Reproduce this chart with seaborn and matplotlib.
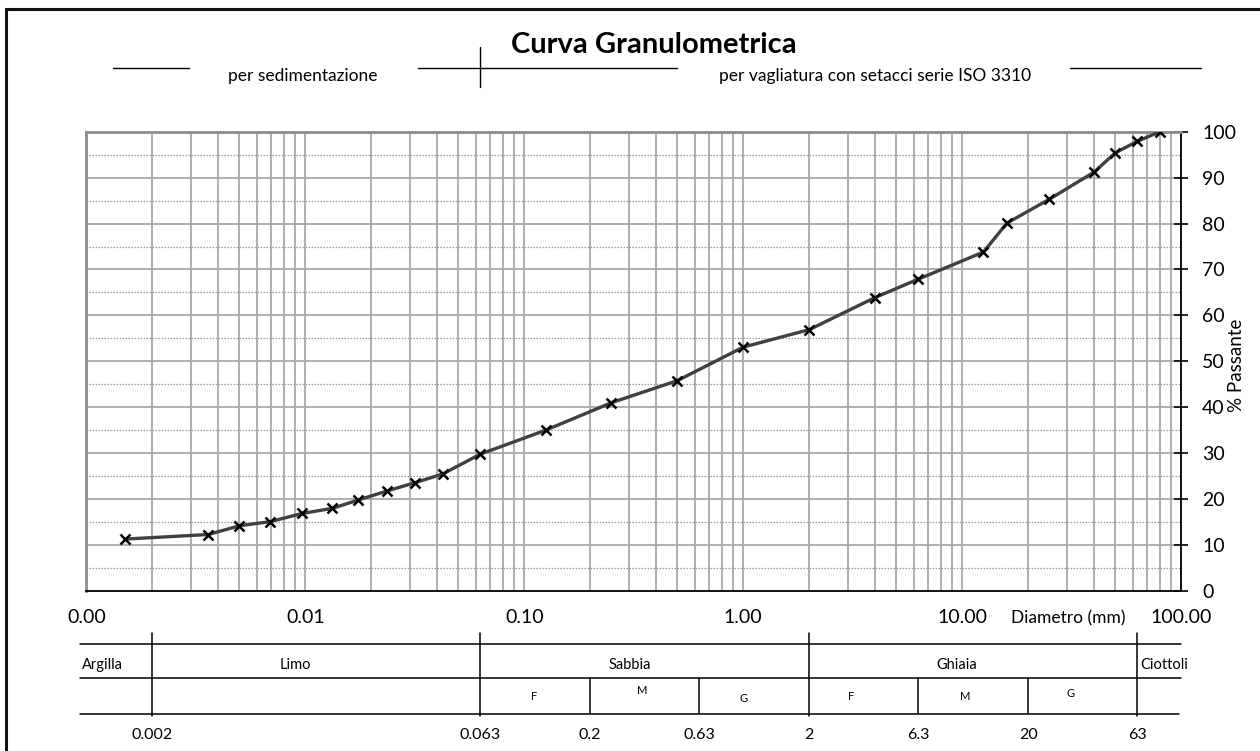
import numpy as np
import matplotlib
matplotlib.use("Agg")
import matplotlib.pyplot as plt
import matplotlib.transforms as mtransforms
from matplotlib.lines import Line2D
from matplotlib.ticker import (LogLocator, FixedLocator, FuncFormatter,
                               MultipleLocator, NullFormatter)
import seaborn as sns

# --- data -------------------------------------------------------------------
diametro_mm = [0.0015, 0.0036, 0.005, 0.0069, 0.0097, 0.0133, 0.0174, 0.0237,
               0.0318, 0.0425, 0.063, 0.125, 0.25, 0.5, 1.0, 2.0, 4.0, 6.3,
               12.5, 16.0, 25.0, 40.0, 50.0, 63.0, 80.0]
passante_pct = [11.3, 12.3, 14.2, 15.1, 16.9, 18.0, 19.8, 21.8, 23.6, 25.5,
                29.8, 35.0, 41.0, 45.8, 53.1, 56.9, 63.9, 67.9, 73.8, 80.1,
                85.3, 91.2, 95.4, 97.9, 100.0]

x_ticks = [0.001, 0.01, 0.1, 1, 10, 100]
y_ticks = list(range(0, 101, 10))

classi = ["Argilla", "Limo", "Sabbia", "Ghiaia", "Ciottoli"]
sottoclassi = ["F", "M", "G", "F", "M", "G"]
limiti_classi = [0.002, 0.063, 2, 63]
limiti_sottoclassi = [0.2, 0.63, 6.3, 20]
limite_sedimentazione = 0.063

# --- style ------------------------------------------------------------------
sns.set_theme(style="white")
plt.rcParams["font.family"] = ["Lato", "DejaVu Sans"]

W, H = 1260, 751
fig = plt.figure(figsize=(W / 100, H / 100), dpi=100)


def fx(px):
    return px / W


def fy(py):
    return 1 - py / H


ax_l, ax_r, ax_t, ax_b = 86.4, 1181.2, 131.7, 591.0
ax = fig.add_axes([fx(ax_l), fy(ax_b), fx(ax_r - ax_l), (ax_b - ax_t) / H])
ax.set_xscale("log")

sns.lineplot(x=diametro_mm, y=passante_pct, ax=ax, estimator=None, sort=False,
             color="#404040", linewidth=2.4, marker="x", markersize=7,
             markeredgewidth=1.8, markeredgecolor="black", zorder=5)

ax.set_xlim(x_ticks[0], x_ticks[-1])
ax.set_ylim(0, 100)

# ticks
ax.xaxis.set_major_locator(FixedLocator(x_ticks))
ax.xaxis.set_minor_locator(LogLocator(base=10, subs=np.arange(2, 10), numticks=60))
ax.xaxis.set_major_formatter(FuncFormatter(lambda v, p: f"{v:.2f}"))
ax.xaxis.set_minor_formatter(NullFormatter())
ax.yaxis.set_major_locator(FixedLocator(y_ticks))
ax.yaxis.set_minor_locator(MultipleLocator(5))
ax.yaxis.tick_right()
ax.tick_params(axis="x", which="major", direction="inout", length=10, width=1.2,
               color="black", pad=8, labelsize=14, labelcolor="black")
ax.tick_params(axis="y", which="major", direction="inout", length=10, width=1.2,
               color="black", pad=10, labelsize=14, labelcolor="black",
               right=True, left=False)
ax.tick_params(which="minor", length=0)

# grid
ax.grid(False)
ax.grid(which="both", axis="x", color="#a8a8a8", linewidth=1.3)
ax.grid(which="major", axis="y", color="#a8a8a8", linewidth=1.3)
ax.grid(which="minor", axis="y", color="#9a9a9a", linewidth=0.9, linestyle=(0, (1.2, 1.2)))
ax.set_axisbelow(True)

# spines
ax.spines["left"].set(color="#8c8c8c", linewidth=2)
ax.spines["top"].set(color="#8c8c8c", linewidth=2)
ax.spines["right"].set(color="black", linewidth=1.3)
ax.spines["bottom"].set(color="black", linewidth=1.3)

# axis titles
ax.set_xlabel("Diametro (mm)", fontsize=12.5, color="black")
ax.xaxis.set_label_coords((1068.5 - ax_l) / (ax_r - ax_l), (ax_b - 618) / (ax_b - ax_t))
ax.xaxis.label.set_va("center")
ax.set_ylabel("% Passante", fontsize=13.5, color="black", rotation=90)
ax.yaxis.set_label_position("right")
ax.yaxis.set_label_coords((1237 - ax_l) / (ax_r - ax_l), (ax_b - 365) / (ax_b - ax_t))
ax.yaxis.label.set_va("center")

# header
fig.text(fx(654), fy(45), "Curva Granulometrica", ha="center", va="center",
         fontsize=21, fontweight="bold", color="black")
fig.text(fx(303), fy(76), "per sedimentazione", ha="center", va="center",
         fontsize=12.5, color="black")
fig.text(fx(875), fy(76), "per vagliatura con setacci serie ISO 3310",
         ha="center", va="center", fontsize=12.5, color="black")
for x0, x1 in [(112.5, 188.8), (418, 677), (1070, 1201)]:
    fig.add_artist(Line2D([fx(x0), fx(x1)], [fy(68.3)] * 2, color="black", lw=1.0))

blend = mtransforms.blended_transform_factory(ax.transData, fig.transFigure)
ax.plot([limite_sedimentazione] * 2, [fy(46.7), fy(87.3)], transform=blend,
        color="black", lw=1.0, clip_on=False)

# classification table under the axis
for py, x1 in [(644.3, 1181), (677.7, 1181), (714.3, 1179)]:
    fig.add_artist(Line2D([fx(80), fx(x1)], [fy(py)] * 2, color="black", lw=1.1))
for v in limiti_classi:
    ax.plot([v, v], [fy(633), fy(716)], transform=blend, color="black", lw=1.1,
            clip_on=False)
for v in limiti_sottoclassi:
    ax.plot([v, v], [fy(677.7), fy(713)], transform=blend, color="black", lw=1.1,
            clip_on=False)

tab = mtransforms.blended_transform_factory(ax.transAxes, fig.transFigure)


def axfrac(px):
    return (px - ax_l) / (ax_r - ax_l)


class_pos = [(82, "left"), (295, "center"), (630, "center"), (957, "center"), (1164, "center")]
for name, (px, ha) in zip(classi, class_pos):
    ax.text(axfrac(px), fy(665), name, transform=tab, ha=ha, va="center",
            fontsize=10.5, color="black", clip_on=False)

sub_pos = [(534, 696.7), (642, 690), (743.7, 698), (851, 697), (965.5, 696.7), (1070.7, 693.3)]
for name, (px, py) in zip(sottoclassi, sub_pos):
    ax.text(axfrac(px), fy(py), name, transform=tab, ha="center", va="center",
            fontsize=8, color="black", clip_on=False)

for v in sorted(limiti_classi + limiti_sottoclassi):
    ax.text(v, fy(735), format(v, "g"), transform=blend, ha="center", va="center",
            fontsize=11.5, color="black", clip_on=False)

# outer frame
fig.add_artist(Line2D([fx(5.5), fx(5.5), fx(1270)], [fy(770), fy(9), fy(9)],
                      color="#111111", lw=2.2, solid_joinstyle="miter"))

fig.savefig("out.png", dpi=100)
